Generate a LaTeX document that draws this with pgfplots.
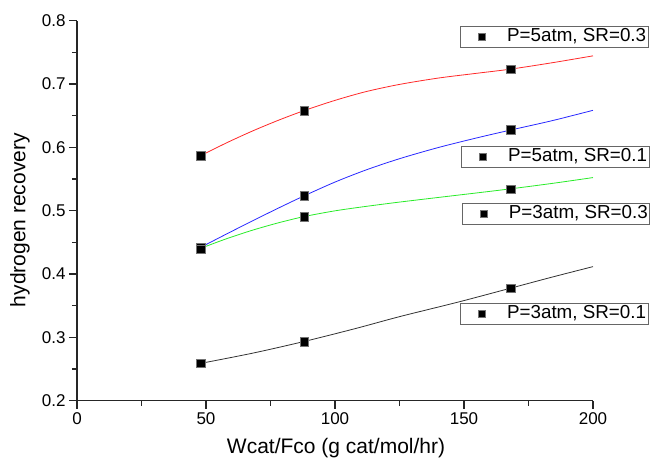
\documentclass[border=0pt]{standalone}
\usepackage{fontspec}
\setmainfont{Liberation Sans}
\usepackage{pgfplots}
\pgfplotsset{compat=1.18}
\definecolor{cred}{RGB}{255,40,40}
\definecolor{cblue}{RGB}{40,40,255}
\definecolor{cgreen}{RGB}{40,235,40}
\definecolor{cblack}{RGB}{50,50,50}
\begin{document}
\begin{tikzpicture}
\path[use as bounding box] (-77pt,-63.3pt) rectangle (574pt,400.7pt);
\pgfplotsset{
  base/.style={
    scale only axis, width=516pt, height=380pt,
    xmin=0, xmax=200, ymin=0.2, ymax=0.8,
    at={(0pt,0pt)}, anchor=south west,
    clip=false,
    legend image code/.code={\path (0pt,0pt) (44pt,0pt); \draw[##1, mark size=3.7pt] plot coordinates {(21pt,0pt)};},
    legend style={draw=black!60, line width=0.8pt, inner xsep=0pt, inner ysep=1pt,
      font=\fontsize{18.8}{20}\selectfont,
      /tikz/every even column/.append style={column sep=0pt},
      nodes={inner ysep=0pt, inner xsep=2pt, text height=14pt, text depth=5pt}},
  },
  marks/.style={only marks, mark=square*, mark size=4.3pt,
    mark options={fill=black, draw=black!55, line width=0.4pt}},
}
\begin{axis}[base,
  axis x line*=bottom, axis y line*=left,
  axis line style={line width=1.2pt, black!85},
  tick align=outside,
  major tick length=8pt, minor tick length=5pt,
  tick style={line width=1.2pt, black!85},
  xtick={0,50,100,150,200}, ytick={0.2,0.3,0.4,0.5,0.6,0.7,0.8},
  minor xtick={25,75,125,175}, minor ytick={0.25,0.35,0.45,0.55,0.65,0.75},
  tick label style={font=\fontsize{17}{19}\selectfont},
  /pgf/number format/assume math mode=true,
  yticklabel style={/pgf/number format/fixed, /pgf/number format/precision=1, /pgf/number format/fixed zerofill},
  xticklabel style={/pgf/number format/fixed},
  xlabel={Wcat/Fco (g cat/mol/hr)},
  ylabel={hydrogen recovery},
  xlabel style={font=\fontsize{21}{23}\selectfont, at={(axis description cs:0.502,-0.1245)}, anchor=center},
  ylabel style={font=\fontsize{21}{23}\selectfont, at={(axis description cs:-0.1105,0.475)}, anchor=center, rotate=0},
  legend style={at={(0.7422,0.9861)}, anchor=north west},
]
\addplot[cred, line width=0.8pt, smooth, forget plot] coordinates {
(48,0.587) (58,0.6072) (68,0.6258) (78,0.6427) (88,0.658) (100,0.6742) (112,0.6880) (125,0.6994) (140,0.7094) (155,0.7170) (168,0.7235) (184,0.7335) (200,0.7445)};
\addplot[cblue, line width=0.8pt, smooth, forget plot] coordinates {
(48,0.4423) (58,0.4633) (68,0.4839) (78,0.5040) (88,0.5234) (100,0.5452) (112,0.5643) (125,0.5821) (140,0.5997) (155,0.6150) (168,0.6273) (184,0.6420) (200,0.6585)};
\addplot[cgreen, line width=0.8pt, smooth, forget plot] coordinates {
(48,0.4407) (58,0.4558) (68,0.4692) (78,0.4808) (88,0.4907) (100,0.4998) (112,0.5068) (125,0.5136) (140,0.5209) (155,0.5281) (168,0.5345) (184,0.5430) (200,0.5523)};
\addplot[cblack, line width=0.8pt, smooth, forget plot] coordinates {
(48,0.259) (68,0.275) (88,0.2935) (108,0.314) (125,0.3327) (148,0.356) (168,0.3776) (184,0.395) (200,0.4117)};
\addplot[marks] coordinates {(48,0.587) (88,0.658) (168,0.7235)};
\addlegendentry{P=5atm, SR=0.3}
\end{axis}
\begin{axis}[base, hide axis, legend style={at={(0.744,0.671)}, anchor=north west}]
\addplot[marks] coordinates {(48,0.4423) (88,0.5234) (168,0.6276)};
\addlegendentry{P=5atm, SR=0.1}
\end{axis}
\begin{axis}[base, hide axis, legend style={at={(0.7455,0.5203)}, anchor=north west}]
\addplot[marks] coordinates {(48,0.4395) (88,0.4907) (168,0.534)};
\addlegendentry{P=3atm, SR=0.3}
\end{axis}
\begin{axis}[base, hide axis, legend style={at={(0.742,0.2571)}, anchor=north west}]
\addplot[marks] coordinates {(48,0.259) (88,0.2935) (168,0.3776)};
\addlegendentry{P=3atm, SR=0.1}
\end{axis}
\end{tikzpicture}
\end{document}
